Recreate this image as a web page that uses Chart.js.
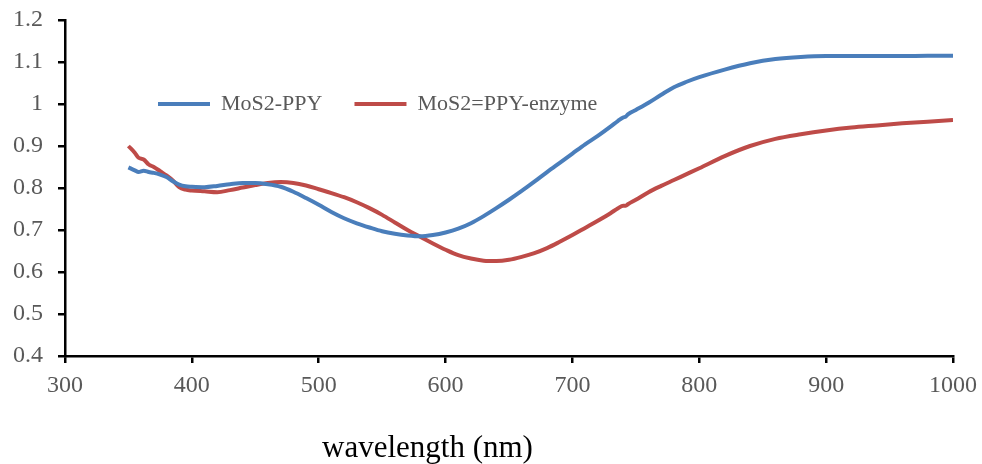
<!DOCTYPE html>
<html>
<head>
<meta charset="utf-8">
<script src="https://cdn.jsdelivr.net/npm/chart.js@4"></script>
<style>
  html, body { margin: 0; padding: 0; background: #fff; }
  #wrap { width: 982px; height: 464px; }
</style>
</head>
<body>
<div id="wrap"><canvas id="myChart"></canvas></div>
<script>
// wavelength (nm) and absorbance values
const wavelengths = [350, 355, 358, 362, 366, 370, 375, 380, 385, 390, 395, 400, 410, 420, 430, 440, 450, 460, 470, 480, 490,
  500, 510, 520, 530, 540, 550, 560, 570, 580, 590, 600, 610, 620, 630, 640, 650, 660, 670, 680, 690,
  700, 710, 720, 730, 736, 740, 742, 744, 750, 760, 770, 780, 790, 800, 820, 840, 860, 880, 900, 920, 940, 960, 980, 1000];

const mos2Ppy = [0.849, 0.842, 0.838, 0.841, 0.838, 0.836, 0.832, 0.826, 0.816, 0.808, 0.804, 0.803, 0.802, 0.805, 0.809, 0.812, 0.812, 0.809, 0.803, 0.791, 0.776,
  0.760, 0.743, 0.728, 0.716, 0.706, 0.697, 0.691, 0.687, 0.685, 0.688, 0.694, 0.703, 0.716, 0.733, 0.752, 0.772, 0.793, 0.815, 0.838, 0.860,
  0.882, 0.904, 0.924, 0.946, 0.960, 0.968, 0.970, 0.976, 0.986, 1.003, 1.022, 1.040, 1.053, 1.064, 1.082, 1.097, 1.107, 1.112, 1.114, 1.114, 1.114, 1.114, 1.115, 1.115];

const mos2PpyEnzyme = [0.900, 0.884, 0.872, 0.868, 0.856, 0.850, 0.840, 0.830, 0.818, 0.802, 0.796, 0.794, 0.792, 0.790, 0.795, 0.801, 0.807, 0.812, 0.814, 0.812, 0.806,
  0.797, 0.788, 0.778, 0.766, 0.752, 0.736, 0.718, 0.700, 0.684, 0.668, 0.653, 0.640, 0.632, 0.627, 0.626, 0.629, 0.636, 0.645, 0.657, 0.672,
  0.688, 0.705, 0.722, 0.740, 0.752, 0.758, 0.758, 0.762, 0.772, 0.790, 0.805, 0.819, 0.833, 0.847, 0.876, 0.900, 0.917, 0.928, 0.937, 0.944, 0.949, 0.954, 0.958, 0.962];

const seriesNames = ['MoS2-PPY', 'MoS2=PPY-enzyme'];
const xTitle = 'wavelength (nm)';

const toPoints = vals => vals.map((v, i) => ({ x: wavelengths[i], y: v }));

// legend sits inside the plot in the original: take no room in the layout,
// then move it (and the bottom title) into place
const placeBoxes = {
  id: 'placeBoxes',
  beforeLayout(chart) {
    const lg = chart.legend;
    if (lg && !lg._noRoom) {
      const fit = lg.fit;
      lg.fit = function () { fit.call(this); this.height = 0; };
      lg._noRoom = true;
    }
  },
  afterLayout(chart) {
    const lg = chart.legend;
    if (lg) {
      const w = lg.right - lg.left;
      lg.left = 126;
      lg.right = lg.left + w;
      lg.top = 61;
      lg.bottom = lg.top + 90;
    }
    const tb = chart.titleBlock;
    if (tb) {
      tb.left = 322;
    }
  }
};

// no extra room for half labels at the ends of the axes
const noEndPadding = s => {
  s.paddingTop = 0;
  s.paddingBottom = 0;
  s.paddingLeft = 0;
  s.paddingRight = 0;
};

const serif = 'Liberation Serif';
const ctx = document.getElementById('myChart').getContext('2d');
new Chart(ctx, {
  type: 'line',
  data: {
    datasets: [
      {
        label: seriesNames[0],
        data: toPoints(mos2Ppy),
        borderColor: '#4A7EBB',
        backgroundColor: '#4A7EBB',
        borderWidth: 4,
        pointRadius: 0,
        cubicInterpolationMode: 'monotone'
      },
      {
        label: seriesNames[1],
        data: toPoints(mos2PpyEnzyme),
        borderColor: '#BE4B48',
        backgroundColor: '#BE4B48',
        borderWidth: 4,
        pointRadius: 0,
        cubicInterpolationMode: 'monotone'
      }
    ]
  },
  options: {
    responsive: true,
    maintainAspectRatio: false,
    animation: false,
    layout: { padding: { top: 20, right: 29, bottom: 0, left: 0 } },
    plugins: {
      legend: {
        position: 'top',
        align: 'start',
        labels: {
          boxWidth: 52,
          boxHeight: 4,
          padding: 32,
          color: '#595959',
          font: { family: serif, size: 22 },
          generateLabels(chart) {
            return Chart.defaults.plugins.legend.labels.generateLabels(chart)
              .map(l => Object.assign(l, { lineWidth: 0 }));
          }
        }
      },
      title: {
        display: true,
        position: 'bottom',
        align: 'start',
        text: xTitle,
        color: '#000',
        font: { family: serif, size: 31, weight: 'normal', lineHeight: 1 },
        padding: { top: 27, bottom: 0 }
      },
      tooltip: { enabled: false }
    },
    scales: {
      x: {
        type: 'linear',
        min: 300,
        max: 1000,
        afterFit: s => { s.height = 50; noEndPadding(s); },
        border: { color: '#000', width: 2.5 },
        grid: { drawOnChartArea: false, drawTicks: true, tickLength: 7, color: '#000', lineWidth: 2.5 },
        ticks: { stepSize: 100, padding: 8, color: '#595959', font: { family: serif, size: 24 }, maxRotation: 0,
          callback: v => String(v) }
      },
      y: {
        min: 0.4,
        max: 1.2,
        afterFit: s => { s.width = 65; noEndPadding(s); },
        border: { color: '#000', width: 2.5 },
        grid: { drawOnChartArea: false, drawTicks: true, tickLength: 7, color: '#000', lineWidth: 2.5 },
        ticks: { stepSize: 0.1, padding: 15, color: '#595959', font: { family: serif, size: 24 },
          callback: v => String(Math.round(v * 10) / 10) }
      }
    }
  },
  plugins: [placeBoxes]
});
</script>
</body>
</html>
